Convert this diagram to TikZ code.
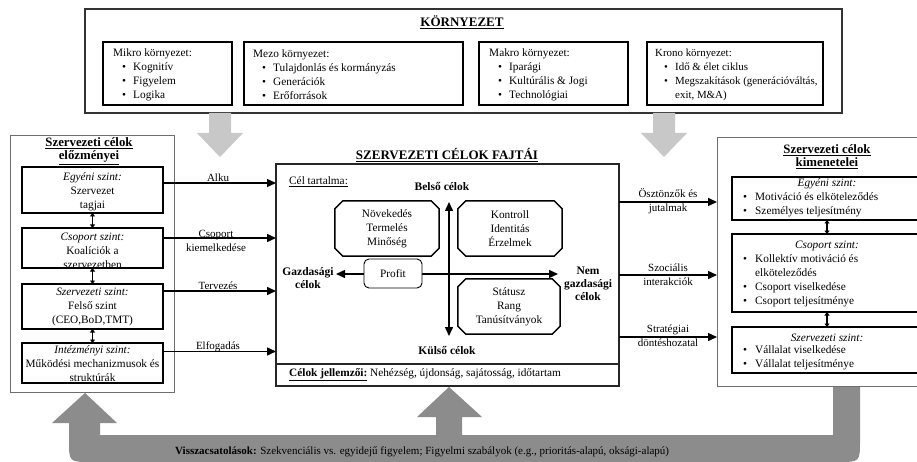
\documentclass[tikz,border=0pt]{standalone}
\usepackage{fontspec}
\setmainfont{Liberation Serif}
\usetikzlibrary{arrows.meta}

% bullet with fixed indent, used in the lists
\newcommand\blt{\hspace*{9pt}\makebox[11pt][l]{\textbullet}}
\newcommand\rblt{\makebox[12pt][l]{\textbullet}}
% rectangle node from corner (x1,y1) to (x2,y2), pixel-like units
\newcommand\mkbox[6]{\node[#1, anchor=north west, minimum width={(#5-#3)*1pt}, minimum height={(#6-#4)*1pt}] (#2) at (#3,#4) {};}
% octagon drawn around a named node
\newcommand\octo[1]{\draw[octline] ([xshift=8pt]#1.north west) -- ([xshift=-8pt]#1.north east) -- ([yshift=-8pt]#1.north east) -- ([yshift=8pt]#1.south east) -- ([xshift=-8pt]#1.south east) -- ([xshift=8pt]#1.south west) -- ([yshift=8pt]#1.south west) -- ([yshift=-8pt]#1.north west) -- cycle;}

\definecolor{lightarrow}{HTML}{C8C8C8}
\definecolor{fbgray}{HTML}{8C8C8C}
\definecolor{outline}{HTML}{6E6E6E}

\begin{document}
\begin{tikzpicture}[x=1pt,y=-1pt,
  outerbox/.style={draw=outline, line width=0.9pt, inner sep=0pt, outer sep=0pt},
  envbox/.style={draw=black!80, line width=1.6pt, inner sep=0pt, outer sep=0pt},
  lvlbox/.style={draw=black, line width=1.5pt, inner sep=0pt, outer sep=0pt},
  centerbox/.style={draw=black!85, line width=1.3pt, inner sep=0pt, outer sep=0pt},
  txt/.style={inner sep=0pt, font=\fontsize{11.3}{14}\selectfont, align=center},
  lst/.style={inner sep=0pt, font=\fontsize{11.3}{14}\selectfont, align=left},
  lbl/.style={inner sep=0pt, font=\fontsize{11}{14}\selectfont, align=center},
  head/.style={inner sep=0pt, font=\fontsize{13}{13}\selectfont\bfseries, align=center},
  subhead/.style={inner sep=0pt, font=\fontsize{12.8}{13}\selectfont\bfseries, align=center},
  axis/.style={inner sep=0pt, font=\fontsize{11.5}{13}\selectfont\bfseries, align=center},
  octbox/.style={inner sep=0pt, font=\fontsize{11.3}{14}\selectfont, align=center},
  octline/.style={draw=black, line width=1.5pt},
  arr/.style={-{Triangle[length=9pt,width=8pt]}, line width=1.5pt},
  dblarr/.style={{Triangle[length=9pt,width=8pt]}-{Triangle[length=9pt,width=8pt]}, line width=1.5pt},
  minidbl/.style={{Triangle[length=3.5pt,width=5pt]}-{Triangle[length=3.5pt,width=5pt]}, line width=1.2pt}
]
\clip (0,0) rectangle (917,462);
\fill[white] (0,0) rectangle (917,462);

% ---------------- environment ----------------
\mkbox{envbox}{env}{85}{9}{842}{113}
\node[head] (envt) at (462,22) {\underline{KÖRNYEZET}};
\mkbox{lvlbox}{mikro}{103}{42}{232}{105}
\mkbox{lvlbox}{mezo}{244}{42}{463}{105}
\mkbox{lvlbox}{makro}{479}{42}{628}{105}
\mkbox{lvlbox}{krono}{647}{42}{823}{105}
\node[lst, anchor=west] (mikrot) at (113,75) {Mikro környezet:\\\blt Kognitív\\\blt Figyelem\\\blt Logika};
\node[lst, anchor=west] (mezot) at (253,75) {Mezo környezet:\\\blt Tulajdonlás és kormányzás\\\blt Generációk\\\blt Erőforrások};
\node[lst, anchor=west] (makrot) at (489,75) {Makro környezet:\\\blt Iparági\\\blt Kultúrális \& Jogi\\\blt Technológiai};
\node[lst, anchor=west, font=\fontsize{10.9}{14}\selectfont] (kronot) at (655,75) {Krono környezet:\\\blt Idő \& élet ciklus\\\blt Megszakítások (generációváltás,\\\hspace*{20pt}exit, M\&A)};

% light arrows from the environment
\fill[lightarrow] (209,113) -- (231,113) -- (231,133) -- (243,133) -- (220,157) -- (197,133) -- (209,133) -- cycle;
\fill[lightarrow] (653,113) -- (675,113) -- (675,133) -- (687,133) -- (664,157) -- (641,133) -- (653,133) -- cycle;

% ---------------- feedback band ----------------
\fill[fbgray] (85,393) -- (117,423) -- (100,423) -- (100,435) -- (436,435) -- (436,417) -- (417,417)
  -- (449,387) -- (482,417) -- (462,417) -- (462,435) -- (833,435) -- (833,386) -- (860,386)
  -- (860,440) .. controls (860,462) .. (838,462) -- (91,462) .. controls (69,462) .. (69,440)
  -- (69,423) -- (52,423) -- cycle;
\node[inner sep=0pt, font=\fontsize{11}{12}\selectfont, anchor=west] (fbt) at (175,452)
  {\textbf{Visszacsatolások:} Szekvenciális vs. egyidejű figyelem; Figyelmi szabályok (e.g., prioritás-alapú, oksági-alapú)};

% ---------------- antecedents ----------------
\mkbox{outerbox}{lbox}{10}{135}{174}{392}
\node[subhead] (lboxt) at (89,151) {\underline{Szervezeti célok}\\\underline{előzményei}};
\mkbox{lvlbox}{egy}{22}{167}{163}{213}
\mkbox{lvlbox}{csop}{22}{228}{163}{268}
\mkbox{lvlbox}{szerv}{22}{284}{163}{329}
\mkbox{lvlbox}{inst}{22}{343}{163}{383}
\node[txt] (egyt) at (92.5,191.5) {\textit{Egyéni szint:}\\Szervezet\\tagjai};
\node[txt] (csopt) at (92.5,251) {\textit{Csoport szint:}\\Koalíciók a\\szervezetben};
\node[txt] (szervt) at (92.5,306.5) {\textit{Szervezeti szint:}\\Felső szint\\(CEO,BoD,TMT)};
\node[txt] (instt) at (92.5,363.5) {\textit{Intézményi szint:}\\Működési mechanizmusok és\\struktúrák};
\draw[minidbl] (egy.south) -- (csop.north);
\draw[minidbl] (csop.south) -- (szerv.north);
\draw[minidbl] (szerv.south) -- (inst.north);

% ---------------- goal types ----------------
\mkbox{centerbox}{cbox}{276}{164}{619}{386}
\node[head] (cboxt) at (447,155) {\underline{SZERVEZETI CÉLOK FAJTÁI}};
\draw[black!85, line width=1.3pt] (cbox.west |- 0,364) coordinate (divl) -- (cbox.east |- 0,364) coordinate (divr);
\node[lst, anchor=west] (tart) at (289,182) {\underline{Cél tartalma:}};
\node[axis] (belso) at (442,187) {Belső célok};
\node[axis] (kulso) at (447,351) {Külső célok};
\node[axis] (gazd) at (308,278.5) {Gazdasági\\célok};
\node[axis] (nemg) at (588,284) {Nem\\gazdasági\\célok};
\coordinate (vtop) at (449,202);
\coordinate (vbot) at (449,336);
\coordinate (hleft) at (336,274);
\coordinate (hright) at (558,274);
\draw[dblarr] (vtop) -- (vbot);
\draw[dblarr] (hleft) -- (hright);

\node[octbox, minimum width=104pt, minimum height=55pt] (grow) at (387,228.5) {Növekedés\\Termelés\\Minőség};
\node[octbox, minimum width=104pt, minimum height=55pt] (ctrl) at (510,228.5) {Kontroll\\Identitás\\Érzelmek};
\node[octbox, minimum width=102pt, minimum height=55pt, fill=white] (stat) at (509,306.5) {Státusz\\Rang\\Tanúsítványok};
\octo{grow}
\octo{ctrl}
\octo{stat}
\node[draw=black, line width=0.9pt, rounded corners=5pt, fill=white, inner sep=0pt, minimum width=58pt, minimum height=29pt, font=\fontsize{11.3}{14}\selectfont] (profit) at (393,273.5) {Profit};
\node[lst, anchor=west] (jell) at (289,374.5) {\underline{\textbf{Célok jellemzői:}} Nehézség, újdonság, sajátosság, időtartam};

% ---------------- outcomes ----------------
\mkbox{outerbox}{rbox}{717}{137}{940}{386}
\node[subhead] (rboxt) at (827,156.5) {\underline{Szervezeti célok}\\\underline{kimenetelei}};
\mkbox{lvlbox}{regy}{732}{177}{940}{220}
\mkbox{lvlbox}{rcsop}{732}{234}{940}{312}
\mkbox{lvlbox}{rszerv}{732}{327}{940}{373}
\node[txt] (regyh) at (827,184) {\textit{Egyéni szint:}};
\node[lst, anchor=west] (regyt) at (743,205) {\rblt Motiváció és elköteleződés\\\rblt Személyes teljesítmény};
\node[txt] (rcsoph) at (827,246) {\textit{Csoport szint:}};
\node[lst, anchor=west] (rcsopt) at (743,281) {\rblt Kollektív motiváció és\\\hspace*{12pt}elköteleződés\\\rblt Csoport viselkedése\\\rblt Csoport teljesítménye};
\node[txt] (rszervh) at (827,338) {\textit{Szervezeti szint:}};
\node[lst, anchor=west] (rszervt) at (743,357.5) {\rblt Vállalat viselkedése\\\rblt Vállalat teljesítménye};
\coordinate (rmid) at (827,0);
\draw[minidbl] (rmid |- regy.south) -- (rmid |- rcsop.north);
\draw[minidbl] (rmid |- rcsop.south) -- (rmid |- rszerv.north);

% ---------------- connectors ----------------
\draw[arr] ([yshift=7pt]egy.east) -- ([yshift=7pt]egy.east -| cbox.west);
\draw[arr] ([yshift=10pt]csop.east) -- ([yshift=10pt]csop.east -| cbox.west);
\draw[arr] ([yshift=15.5pt]szerv.east) -- ([yshift=15.5pt]szerv.east -| cbox.west);
\draw[arr] ([yshift=11.5pt]inst.east) -- ([yshift=11.5pt]inst.east -| cbox.west);
\node[lbl] (alku) at (218,178) {Alku};
\node[lbl] (csopk) at (216,241) {Csoport\\kiemelkedése};
\node[lbl] (terv) at (218,286) {Tervezés};
\node[lbl] (elf) at (218,347) {Elfogadás};

\draw[arr] ([yshift=73pt]cbox.east) -- ([yshift=73pt]cbox.east -| rbox.west);
\draw[arr] (cbox.east) -- (cbox.east -| rbox.west);
\draw[arr] ([yshift=-62pt]cbox.east) -- ([yshift=-62pt]cbox.east -| rbox.west);
\node[lbl] (oszt) at (668,201.5) {Ösztönzők és\\jutalmak};
\node[lbl] (szoc) at (668,275) {Szociális\\interakciók};
\node[lbl] (strat) at (668,336) {Stratégiai\\döntéshozatal};
\end{tikzpicture}
\end{document}
